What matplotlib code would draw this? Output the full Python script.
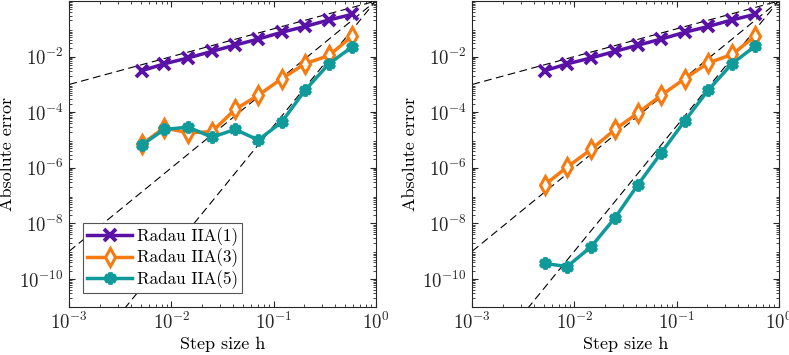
import matplotlib
matplotlib.use("Agg")
import matplotlib.pyplot as plt
import numpy as np

plt.rcParams['font.family'] = 'cmr10'
plt.rcParams['mathtext.fontset'] = 'cm'
plt.rcParams['axes.formatter.use_mathtext'] = True

# step sizes
h = [0.0051, 0.0085, 0.0146, 0.025, 0.042, 0.071, 0.12, 0.204, 0.35, 0.585]

# left panel errors
err1_left = [3.1e-3, 5.5e-3, 9.0e-3, 1.55e-2, 2.6e-2, 4.3e-2, 7.5e-2, 0.122, 0.21, 0.33]
err3_left = [6.9e-6, 2.75e-5, 1.8e-5, 2.0e-5, 1.26e-4, 4.1e-4, 1.6e-3, 5.6e-3, 1.1e-2, 5.4e-2]
err5_left = [6.5e-6, 2.4e-5, 2.9e-5, 1.26e-5, 2.4e-5, 1.0e-5, 4.4e-5, 6.2e-4, 5.6e-3, 2.2e-2]

# right panel errors
err1_right = [3.1e-3, 5.5e-3, 9.0e-3, 1.55e-2, 2.6e-2, 4.3e-2, 7.5e-2, 0.122, 0.21, 0.33]
err3_right = [2.4e-7, 1.07e-6, 4.6e-6, 2.4e-5, 9.5e-5, 4.1e-4, 1.6e-3, 5.9e-3, 1.2e-2, 5.4e-2]
err5_right = [3.6e-10, 2.8e-10, 1.45e-9, 1.6e-8, 2.5e-7, 3.5e-6, 4.8e-5, 6.2e-4, 5.6e-3, 2.35e-2]

labels = ['Radau IIA(1)', 'Radau IIA(3)', 'Radau IIA(5)']
ref_slopes = [1, 3, 4.5]

purple = '#5a12a6'
orange = '#f77b10'
teal = '#119a9a'

fig = plt.figure(figsize=(7.89, 3.55), dpi=100)
ax1 = fig.add_axes([0.0878, 0.136, 0.3883, 0.861])
ax2 = fig.add_axes([0.5986, 0.136, 0.3883, 0.861])

href = np.logspace(-3, 0, 50)

for ax, e1, e3, e5, show_leg in [(ax1, err1_left, err3_left, err5_left, True),
                                  (ax2, err1_right, err3_right, err5_right, False)]:
    for p in ref_slopes:
        ax.loglog(href, href ** p, '--', color='k', lw=0.8, dashes=(7, 4), zorder=1)
    ax.loglog(h, e1, '-', color=purple, lw=2.5, marker='x', ms=9, mew=2.8,
              label=labels[0], zorder=3)
    ax.loglog(h, e3, '-', color=orange, lw=2.5, marker='d', ms=9, mew=2.2,
              mfc='white', label=labels[1], zorder=3)
    ax.loglog(h, e5, '-', color=teal, lw=2.5, marker=(6, 1, 0), ms=8, mew=3,
              mfc=teal, label=labels[2], zorder=3)
    ax.set_xlim(1e-3, 1)
    ax.set_ylim(1e-11, 1)
    ax.set_xticks([1e-3, 1e-2, 1e-1, 1])
    ax.set_yticks([1e-10, 1e-8, 1e-6, 1e-4, 1e-2])
    ax.tick_params(which='both', direction='in', top=True, right=True,
                   labelsize=13.5, colors='#262626', pad=4)
    ax.tick_params(which='major', length=4)
    ax.tick_params(which='minor', length=2)
    ax.yaxis.set_minor_locator(matplotlib.ticker.LogLocator(base=10, subs=np.arange(2, 10), numticks=20))
    for s in ax.spines.values():
        s.set_color('#262626')
        s.set_linewidth(0.8)
    ax.set_xlabel('Step size h', fontsize=13, labelpad=2)
    ax.set_ylabel('Absolute error', fontsize=13, labelpad=3)
    if show_leg:
        leg = ax.legend(loc='lower left', bbox_to_anchor=(0.045, 0.045), fontsize=12.3,
                        fancybox=False, framealpha=1, edgecolor='#555555',
                        handlelength=2.6, borderpad=0.25, labelspacing=0.15,
                        handletextpad=0.3, borderaxespad=0)
        leg.get_frame().set_linewidth(0.8)

fig.savefig('out.png', dpi=100)
